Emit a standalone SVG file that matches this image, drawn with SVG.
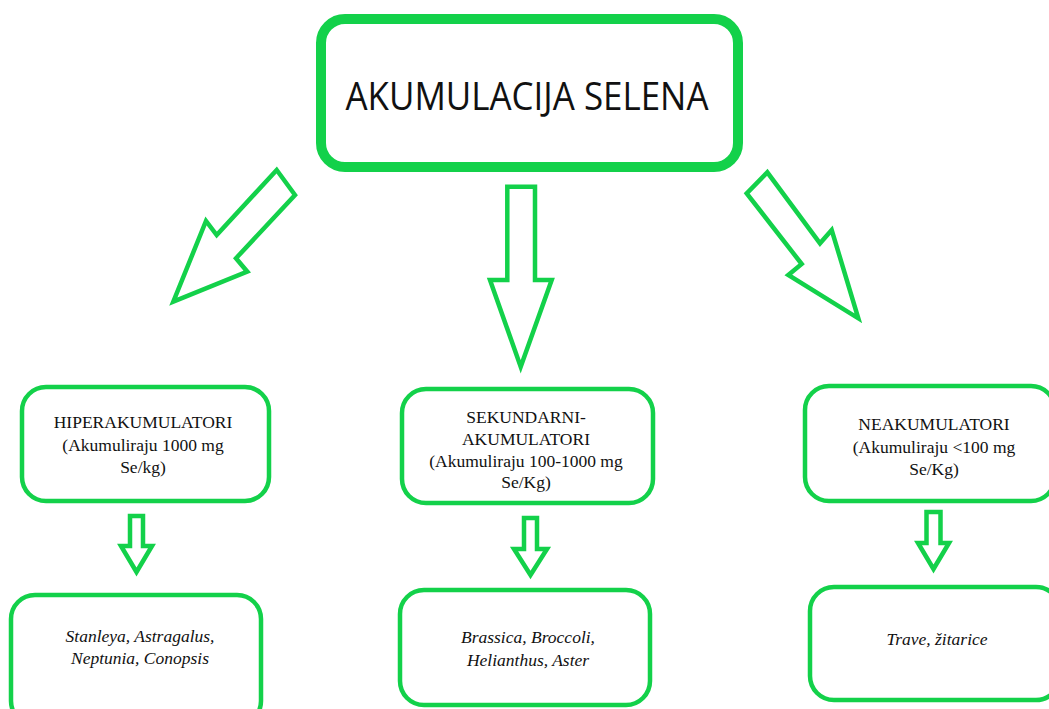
<svg xmlns="http://www.w3.org/2000/svg" width="1049" height="709" viewBox="0 0 1049 709">
<style>
.box{fill:#fff;stroke:#13d14a;stroke-width:4.5}
.main{fill:#fff;stroke:#13d14a;stroke-width:10}
.arr{fill:#fff;stroke:#13d14a;stroke-width:4.5;stroke-linejoin:miter}
.t{font-family:"Liberation Serif","Times New Roman",serif;font-size:17.5px;fill:#111;text-anchor:middle}
.i{font-family:"Liberation Serif","Times New Roman",serif;font-size:17.5px;font-style:italic;fill:#111;text-anchor:middle}
.title{font-family:"Open Sans","Noto Sans",sans-serif;font-size:39px;fill:#111;text-anchor:middle}
</style>
<rect width="1049" height="709" fill="#fff"/>
<g id="connectors">
<polygon class="arr" points="276.7,170 295,195 236,258.3 247.3,271.7 173.3,301.7 206,221 216.7,235"/>
<polygon class="arr" points="507.3,186.7 535,186.7 535,280 551.7,280 520.7,366.7 490,280 507.3,280"/>
<polygon class="arr" points="767.3,172.3 746.7,193.3 801.7,264 788.3,275 858.3,318.3 831.7,230 820,243.3"/>
<polygon class="arr" points="130,516 143,516 143,546 152,546 136.5,572 121,546 130,546"/>
<polygon class="arr" points="524,518 537,518 537,549 547,549 530.5,575 514,549 524,549"/>
<polygon class="arr" points="926.5,512 940.5,512 940.5,543 949,543 933.5,569 918,543 926.5,543"/>
</g>
<g id="main">
<rect class="main" x="321" y="19" width="417" height="148" rx="24"/>
<text class="title" x="527" y="110" textLength="363" lengthAdjust="spacingAndGlyphs">AKUMULACIJA SELENA</text>
</g>
<g id="hiper">
<rect class="box" x="22" y="387" width="247" height="114" rx="24"/>
<text class="t" x="143" y="428">HIPERAKUMULATORI</text>
<text class="t" x="143" y="451">(Akumuliraju 1000 mg</text>
<text class="t" x="143" y="473">Se/kg)</text>
</g>
<g id="sekundarni">
<rect class="box" x="402" y="389" width="251" height="114" rx="24"/>
<text class="t" x="526" y="423">SEKUNDARNI-</text>
<text class="t" x="526" y="445">AKUMULATORI</text>
<text class="t" x="526" y="467">(Akumuliraju 100-1000 mg</text>
<text class="t" x="526" y="488">Se/Kg)</text>
</g>
<g id="neakumulatori">
<rect class="box" x="805" y="386" width="250" height="115" rx="24"/>
<text class="t" x="934" y="430">NEAKUMULATORI</text>
<text class="t" x="934" y="453">(Akumuliraju &lt;100 mg</text>
<text class="t" x="934" y="475">Se/Kg)</text>
</g>
<g id="primjeri1">
<rect class="box" x="11" y="595" width="250" height="130" rx="24"/>
<text class="i" x="140" y="642">Stanleya, Astragalus,</text>
<text class="i" x="140" y="664">Neptunia, Conopsis</text>
</g>
<g id="primjeri2">
<rect class="box" x="400" y="590" width="250" height="115" rx="24"/>
<text class="i" x="528" y="643">Brassica, Broccoli,</text>
<text class="i" x="528" y="666">Helianthus, Aster</text>
</g>
<g id="primjeri3">
<rect class="box" x="810" y="587" width="250" height="113" rx="24"/>
<text class="i" x="937" y="645">Trave, žitarice</text>
</g>
</svg>
